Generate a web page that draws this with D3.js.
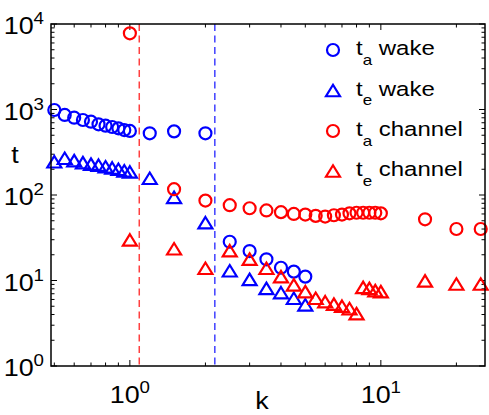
<!DOCTYPE html>
<html lang="en">

<head>
    <meta charset="UTF-8">
    <title>t vs k</title>
    <script src="https://d3js.org/d3.v7.min.js"></script>
    <style>
        body {
            margin: 0;
            background: #fff;
        }

        text {
            font-family: "Liberation Sans", Arial, Helvetica, sans-serif;
            fill: #000;
        }
    </style>
</head>

<body>
    <div id="chart-div"></div>
    <script type="text/javascript">
        // data
        const kWake = [0.5, 0.55, 0.6, 0.65, 0.7, 0.75, 0.8, 0.85, 0.9, 0.95, 1.0,
            1.2, 1.5, 2, 2.5, 3, 3.5, 4, 4.5, 5];
        const taWake = [986, 863, 802, 754, 720, 671, 647, 624, 602, 575, 561,
            527, 555, 527, 28.4, 22.1, 17.7, 14.1, 12.7, 11.1];
        const teWake = [245, 269, 252, 239, 230, 223, 214, 207, 200, 192, 186,
            157, 94, 47.4, 13.0, 10.3, 8.1, 7.2, 6.2, 5.2];

        const kChannel = [1, 1.5, 2, 2.5, 3, 3.5, 4, 4.5, 5, 5.5, 6, 6.5, 7, 7.5, 8,
            8.5, 9, 9.5, 10, 15, 20, 25];
        const taChannel = [7780, 117, 86, 76, 70, 66, 63, 60, 59, 57, 56, 58, 59, 61, 62,
            62, 62, 62, 61, 52, 40, 40];
        const teChannel = [29.8, 23.5, 13.9, 22.3, 17.8, 13.9, 11.1, 8.9, 7.4, 6.2, 5.65, 5.3, 5.0, 4.7, 4.1,
            8.3, 8.1, 7.6, 7.4, 9.9, 9.1, 9.1];

        // critical k values (dashed lines)
        const kCritical = [1.09, 2.18];

        const xMajor = [1, 10];
        const yMajor = [1, 10, 100, 1000, 10000];

        const legendItems = [
            {sub: "a", name: "wake", color: "#0000ff", shape: "circle"},
            {sub: "e", name: "wake", color: "#0000ff", shape: "triangle"},
            {sub: "a", name: "channel", color: "#ff0000", shape: "circle"},
            {sub: "e", name: "channel", color: "#ff0000", shape: "triangle"}
        ];

        const chartWidth = 489;
        const chartHeight = 415;
        const margin = {top: 24, right: 4, bottom: 49, left: 51};
        const stretch = 1.17; // the original text is a bit wide

        const x = d3.scaleLog()
            .domain([0.485, 26])
            .range([margin.left, chartWidth - margin.right]);
        const y = d3.scaleLog()
            .domain([1, 10000])
            .range([chartHeight - margin.bottom, margin.top]);

        const svg = d3.select("#chart-div")
            .append("svg")
            .attr("width", chartWidth)
            .attr("height", chartHeight);

        function stretchedText(parent, px, py, anchor, size) {
            return parent.append("g")
                .attr("transform", `translate(${px},${py}) scale(${stretch},1)`)
                .append("text")
                .attr("text-anchor", anchor)
                .attr("font-size", size);
        }

        function triangle(w, h) {
            return `M0,${-h / 2}L${w / 2},${h / 2}L${-w / 2},${h / 2}Z`;
        }

        const markerR = 6;
        const triW = 14, triH = 11.5;

        function drawMarkers(ks, vs, color, shape) {
            const g = svg.append("g")
                .attr("fill", "none")
                .attr("stroke", color)
                .attr("stroke-width", 2.2);
            const pts = ks.map((k, i) => [k, vs[i]]);
            if (shape === "circle") {
                g.selectAll("circle")
                    .data(pts)
                    .join("circle")
                    .attr("cx", d => x(d[0]))
                    .attr("cy", d => y(d[1]))
                    .attr("r", markerR);
            } else {
                g.selectAll("path")
                    .data(pts)
                    .join("path")
                    .attr("transform", d => `translate(${x(d[0])},${y(d[1])})`)
                    .attr("d", triangle(triW, triH));
            }
        }

        // minor ticks
        const xMinor = [];
        [0.1, 1, 10].forEach(d => {
            for (let m = 2; m <= 9; m++) {
                const v = d * m;
                if (v >= x.domain()[0] && v <= x.domain()[1]) xMinor.push(v);
            }
        });
        const yMinor = [];
        [1, 10, 100, 1000].forEach(d => {
            for (let m = 2; m <= 9; m++) yMinor.push(d * m);
        });

        const x0 = margin.left, x1 = chartWidth - margin.right;
        const y0 = chartHeight - margin.bottom, y1 = margin.top;

        // ticks pointing inward on all four sides
        const ticks = svg.append("g")
            .attr("stroke", "#000")
            .attr("stroke-width", 1);
        function xTicks(vals, len) {
            ticks.append("g").selectAll("line").data(vals).join("line")
                .attr("x1", d => x(d)).attr("x2", d => x(d))
                .attr("y1", y0).attr("y2", y0 - len);
            ticks.append("g").selectAll("line").data(vals).join("line")
                .attr("x1", d => x(d)).attr("x2", d => x(d))
                .attr("y1", y1).attr("y2", y1 + len);
        }
        function yTicks(vals, len) {
            ticks.append("g").selectAll("line").data(vals).join("line")
                .attr("y1", d => y(d)).attr("y2", d => y(d))
                .attr("x1", x0).attr("x2", x0 + len);
            ticks.append("g").selectAll("line").data(vals).join("line")
                .attr("y1", d => y(d)).attr("y2", d => y(d))
                .attr("x1", x1).attr("x2", x1 - len);
        }
        xTicks(xMinor, 3.5);
        xTicks(xMajor, 6);
        yTicks(yMinor, 3.5);
        yTicks(yMajor, 6);

        // dashed lines
        svg.append("g")
            .selectAll("line")
            .data(kCritical)
            .join("line")
            .attr("x1", d => x(d)).attr("x2", d => x(d))
            .attr("y1", y1).attr("y2", y0)
            .attr("stroke", (d, i) => i === 0 ? "#ff4040" : "#4040ff")
            .attr("stroke-width", 1.5)
            .attr("stroke-dasharray", "7,4.5");

        drawMarkers(kWake, taWake, "#0000ff", "circle");
        drawMarkers(kWake, teWake, "#0000ff", "triangle");
        drawMarkers(kChannel, taChannel, "#ff0000", "circle");
        drawMarkers(kChannel, teChannel, "#ff0000", "triangle");

        // box
        svg.append("rect")
            .attr("x", x0).attr("y", y1)
            .attr("width", x1 - x0).attr("height", y0 - y1)
            .attr("fill", "none")
            .attr("stroke", "#000")
            .attr("stroke-width", 1.5);

        // tick labels 10^n
        yMajor.forEach(v => {
            const t = stretchedText(svg, x0 - 7, y(v) + 10, "end", 23);
            t.append("tspan").text("10");
            t.append("tspan").attr("dy", -10).attr("font-size", 16).text(Math.round(Math.log10(v)));
        });
        xMajor.forEach(v => {
            const t = stretchedText(svg, x(v), y0 + 37, "middle", 23);
            t.append("tspan").text("10");
            t.append("tspan").attr("dy", -10).attr("font-size", 16).text(Math.round(Math.log10(v)));
        });

        // axis labels
        stretchedText(svg, 15, 163, "middle", 23).text("t");
        stretchedText(svg, 262, 409, "middle", 23).text("k");

        // legend
        const legY = [50, 90.5, 131, 171];
        legendItems.forEach((d, i) => {
            const lg = svg.append("g").attr("transform", `translate(333,${legY[i]})`);
            if (d.shape === "circle") {
                lg.append("circle").attr("r", markerR)
                    .attr("fill", "none").attr("stroke", d.color).attr("stroke-width", 2.2);
            } else {
                lg.append("path").attr("d", triangle(triW, triH))
                    .attr("fill", "none").attr("stroke", d.color).attr("stroke-width", 2.2);
            }
            const t = stretchedText(lg, 23, 5, "start", 20.5);
            t.append("tspan").text("t");
            t.append("tspan").attr("dy", 9.5).attr("font-size", 14.5).text(d.sub);
            t.append("tspan").attr("dy", -9.5).text(" " + d.name);
        });
    </script>
</body>

</html>
